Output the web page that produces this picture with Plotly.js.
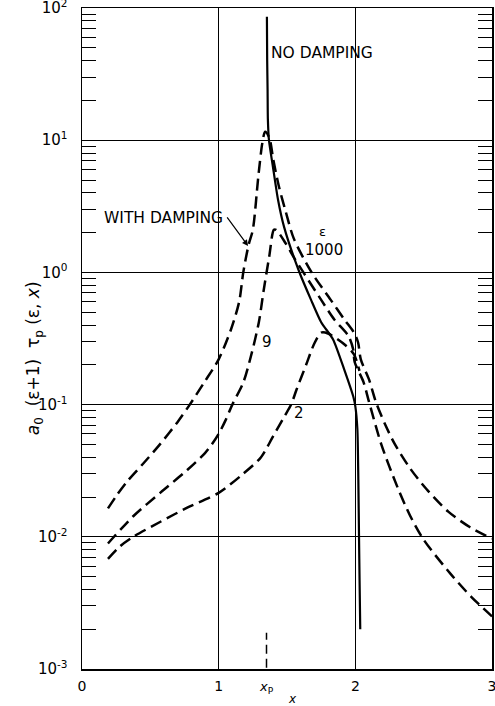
<!DOCTYPE html>
<html>
<head>
<meta charset="utf-8">
<script src="https://cdn.plot.ly/plotly-3.0.1.min.js"></script>
<style>html,body{margin:0;padding:0;background:#fff;}#chart{width:495px;height:706px;}</style>
</head>
<body>
<div id="chart"></div>
<script>
// ---- data ----
const xNoDamp = [1.353, 1.355, 1.358, 1.36, 1.368, 1.397, 1.434, 1.478, 1.588, 1.676, 1.75, 1.838, 1.919, 1.985, 2.0, 2.015, 2.022, 2.027, 2.031, 2.036];
const yNoDamp = [86, 40, 24, 14.4, 10, 6.3, 3.56, 2.22, 1.02, 0.62, 0.42, 0.31, 0.184, 0.115, 0.097, 0.065, 0.027, 0.01, 0.0047, 0.002];

const x1000 = [0.19, 0.26, 0.33, 0.45, 0.57, 0.70, 0.78, 0.89, 1.0, 1.09, 1.15, 1.18, 1.22, 1.25, 1.29, 1.32, 1.34, 1.37, 1.40, 1.44, 1.49, 1.55, 1.68, 1.82, 1.92, 1.99, 2.02, 2.04, 2.10, 2.15, 2.22, 2.29, 2.40, 2.52, 2.68, 2.84, 3.0];
const y1000 = [0.0164, 0.021, 0.0262, 0.036, 0.05, 0.074, 0.097, 0.145, 0.22, 0.37, 0.6, 1.0, 1.63, 2.1, 5.3, 9.6, 11.6, 10.5, 7.1, 4.5, 2.9, 1.8, 1.0, 0.62, 0.44, 0.35, 0.295, 0.22, 0.155, 0.105, 0.07, 0.05, 0.033, 0.023, 0.0155, 0.0118, 0.0097];

const x9 = [0.19, 0.375, 0.574, 0.77, 0.9, 0.95, 1.0, 1.05, 1.10, 1.18, 1.235, 1.294, 1.33, 1.37, 1.404, 1.42, 1.49, 1.55, 1.62, 1.75, 1.846, 1.95, 1.985, 1.995, 2.06, 2.10, 2.19, 2.31, 2.40, 2.50, 2.70, 2.85, 3.0];
const y9 = [0.0089, 0.0143, 0.0216, 0.032, 0.043, 0.05, 0.06, 0.076, 0.10, 0.147, 0.23, 0.42, 0.74, 1.32, 2.1, 2.1, 1.66, 1.3, 1.0, 0.62, 0.44, 0.33, 0.26, 0.21, 0.148, 0.105, 0.05, 0.0235, 0.0145, 0.0095, 0.0052, 0.0035, 0.0025];

const x2 = [0.19, 0.28, 0.375, 0.574, 0.77, 1.0, 1.18, 1.31, 1.40, 1.48, 1.53, 1.57, 1.64, 1.70, 1.75, 1.80, 1.93, 1.99, 2.03];
const y2 = [0.0068, 0.0085, 0.010, 0.013, 0.0166, 0.0215, 0.030, 0.04, 0.058, 0.081, 0.10, 0.13, 0.20, 0.29, 0.35, 0.345, 0.28, 0.24, 0.18];

const xTickVals = [0, 1, 2, 3];
const xTickText = ['0', '1', '2', '3'];
const yTickVals = [0.001, 0.01, 0.1, 1, 10, 100];
const yTickText = ['10<sup>-3</sup>', '10<sup>-2</sup>', '10<sup>-1</sup>', '10<sup>0</sup>', '10<sup>1</sup>', '10<sup>2</sup>'];
const xP = 1.35;

// minor tick positions 2..9 in each decade
const yMinor = [];
for (let e = -3; e < 2; e++) for (let m = 2; m <= 9; m++) yMinor.push(m * Math.pow(10, e));

const FONT = 'DejaVu Sans, Verdana, sans-serif';
const dashLine = {color: 'black', width: 2.5, dash: '12px,6px', shape: 'spline', smoothing: 0.8};
const NB = '\u00A0';

const traces = [
  {x: xNoDamp, y: yNoDamp, mode: 'lines', line: {color: 'black', width: 2.2, shape: 'spline', smoothing: 0.6}, hoverinfo: 'skip'},
  {x: x1000, y: y1000, mode: 'lines', line: dashLine, hoverinfo: 'skip'},
  {x: x9, y: y9, mode: 'lines', line: dashLine, hoverinfo: 'skip'},
  {x: x2, y: y2, mode: 'lines', line: dashLine, hoverinfo: 'skip'}
];

const layout = {
  width: 495, height: 706,
  margin: {l: 82, r: 3, t: 8, b: 37},
  paper_bgcolor: 'white', plot_bgcolor: 'white',
  showlegend: false,
  font: {family: FONT, color: 'black', size: 13},
  xaxis: {
    range: [0, 3], tickmode: 'array', tickvals: xTickVals, ticktext: xTickText,
    showgrid: true, gridcolor: 'black', gridwidth: 1,
    showline: true, linecolor: 'black', linewidth: 1.5, mirror: true,
    zeroline: false, ticks: '', tickfont: {size: 14, family: FONT},
    ticklabelstandoff: 4, ticklabeloverflow: 'allow', fixedrange: true
  },
  yaxis: {
    type: 'log', range: [-3, 2], tickmode: 'array', tickvals: yTickVals, ticktext: yTickText,
    showgrid: true, gridcolor: 'black', gridwidth: 1,
    showline: true, linecolor: 'black', linewidth: 1.5, mirror: 'allticks',
    zeroline: false, ticks: 'inside', ticklen: 14, tickcolor: 'black', tickwidth: 1,
    tickfont: {size: 15, family: FONT}, ticklabelstandoff: 10, ticklabeloverflow: 'allow',
    minor: {tickmode: 'array', tickvals: yMinor, ticks: 'inside', ticklen: 14, tickcolor: 'black', tickwidth: 1, showgrid: false},
    fixedrange: true
  },
  shapes: [
    {type: 'line', xref: 'x', yref: 'paper', x0: xP, x1: xP, y0: 0.002, y1: 0.055, line: {color: 'black', width: 1.5, dash: '9px,5px'}}
  ],
  annotations: [
    {xref: 'x', yref: 'y', x: 1.365, xanchor: 'left', y: 1.66, text: 'NO DAMPING', showarrow: false, font: {size: 15.5, family: FONT}},
    {xref: 'x', yref: 'y', x: 0.147, xanchor: 'left', y: 0.415, text: 'WITH DAMPING', showarrow: false, font: {size: 15.5, family: FONT}},
    {xref: 'x', yref: 'y', x: 1.215, y: 0.2, text: '', showarrow: true, arrowhead: 2, arrowsize: 1, arrowwidth: 1.2, arrowcolor: 'black', ax: -22, ay: -30},
    {xref: 'x', yref: 'y', x: 1.76, y: 0.31, text: 'ε', showarrow: false, font: {size: 13, family: FONT}},
    {xref: 'x', yref: 'y', x: 1.77, y: 0.17, text: '1000', showarrow: false, font: {size: 15, family: FONT}},
    {xref: 'x', yref: 'y', x: 1.35, y: -0.53, text: '9', showarrow: false, font: {size: 15, family: FONT}},
    {xref: 'x', yref: 'y', x: 1.585, y: -1.06, text: '2', showarrow: false, font: {size: 15, family: FONT}},
    {xref: 'x', yref: 'paper', x: xP, y: -0.028, yanchor: 'middle', text: '<i>x</i><sub>P</sub>', showarrow: false, font: {size: 13, family: FONT}},
    {xref: 'x', yref: 'paper', x: 1.54, y: -0.045, yanchor: 'middle', text: '<i>x</i>', showarrow: false, font: {size: 12, family: FONT}},
    {xref: 'paper', yref: 'paper', x: -0.148, y: 0.47, textangle: -90,
     text: '<i>a</i><sub>0</sub>' + NB + NB + '(ε+1)' + NB + NB + 'τ<sub>p</sub>' + NB + '(ε,' + NB + '<i>x</i>)',
     showarrow: false, font: {size: 17, family: FONT}}
  ]
};

Plotly.newPlot('chart', traces, layout, {staticPlot: true, displayModeBar: false});
</script>
</body>
</html>
